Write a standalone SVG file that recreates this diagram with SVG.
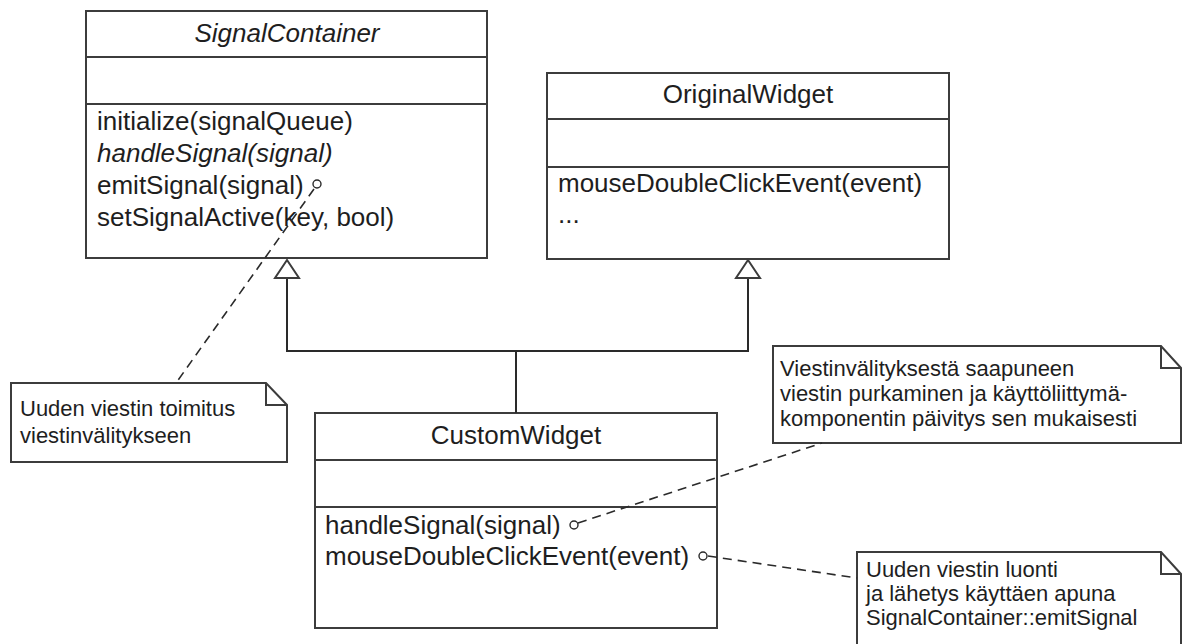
<svg xmlns="http://www.w3.org/2000/svg" width="1183" height="644" viewBox="0 0 1183 644">
  <style>
    .box { fill: #ffffff; stroke: #3c3c3c; stroke-width: 2; }
    .sep { stroke: #3c3c3c; stroke-width: 2; fill: none; }
    .cls { font-family: "Liberation Sans", Arial, sans-serif; font-size: 26px; fill: #1e1e1e; }
    .ttl { text-anchor: middle; }
    .it { font-style: italic; }
    .note { font-family: "Liberation Sans", Arial, sans-serif; font-size: 22px; fill: #1e1e1e; }
    .edge { stroke: #2a2a2a; stroke-width: 2; fill: none; }
    .gen { fill: #ffffff; stroke: #3c3c3c; stroke-width: 2; stroke-linejoin: miter; }
    .anchor { stroke: #2a2a2a; stroke-width: 1.6; fill: none; stroke-dasharray: 9 6; }
    .port { fill: #ffffff; stroke: #2a2a2a; stroke-width: 1.4; }
  </style>

  <g id="SignalContainer">
    <rect class="box" x="86" y="11" width="401" height="247"/>
    <line class="sep" x1="86" y1="57" x2="487" y2="57"/>
    <line class="sep" x1="86" y1="104" x2="487" y2="104"/>
    <text class="cls ttl it" x="287" y="42">SignalContainer</text>
    <text class="cls" x="97" y="130">initialize(signalQueue)</text>
    <text class="cls it" x="97" y="162">handleSignal(signal)</text>
    <text class="cls" x="97" y="194">emitSignal(signal)</text>
    <text class="cls" x="97" y="226">setSignalActive(key, bool)</text>
  </g>

  <g id="OriginalWidget">
    <rect class="box" x="547" y="73" width="402" height="186"/>
    <line class="sep" x1="547" y1="119" x2="949" y2="119"/>
    <line class="sep" x1="547" y1="167" x2="949" y2="167"/>
    <text class="cls ttl" x="748" y="103">OriginalWidget</text>
    <text class="cls" x="558" y="192">mouseDoubleClickEvent(event)</text>
    <text class="cls" x="558" y="223">...</text>
  </g>

  <g id="CustomWidget">
    <rect class="box" x="315" y="413" width="402" height="215"/>
    <line class="sep" x1="315" y1="460" x2="717" y2="460"/>
    <line class="sep" x1="315" y1="507" x2="717" y2="507"/>
    <text class="cls ttl" x="516" y="444">CustomWidget</text>
    <text class="cls" x="325" y="534">handleSignal(signal)</text>
    <text class="cls" x="325" y="565">mouseDoubleClickEvent(event)</text>
  </g>

  <g id="note-emit">
    <path class="box" d="M11,383 H266 L287,405 V462 H11 Z"/>
    <path class="sep" d="M266,383 V405 H287"/>
    <text class="note" x="20" y="416">Uuden viestin toimitus</text>
    <text class="note" x="20" y="443">viestinvälitykseen</text>
  </g>

  <g id="note-handle">
    <path class="box" d="M773,346 H1161 L1181,368 V443 H773 Z"/>
    <path class="sep" d="M1161,346 V368 H1181"/>
    <text class="note" x="780" y="376">Viestinvälityksestä saapuneen</text>
    <text class="note" x="780" y="401">viestin purkaminen ja käyttöliittymä-</text>
    <text class="note" x="780" y="426">komponentin päivitys sen mukaisesti</text>
  </g>

  <g id="note-create">
    <path class="box" d="M857,552 H1161 L1181,574 V660 H857 Z"/>
    <path class="sep" d="M1161,552 V574 H1181"/>
    <text class="note" x="866" y="577">Uuden viestin luonti</text>
    <text class="note" x="866" y="601">ja lähetys käyttäen apuna</text>
    <text class="note" x="866" y="625">SignalContainer::emitSignal</text>
  </g>

  <!-- inheritance connectors and note anchors, drawn above the boxes -->
  <g id="connectors">
    <polyline class="edge" points="516,413 516,351"/>
    <polyline class="edge" points="287,278 287,351 748,351 748,278"/>
    <polygon class="gen" points="287,260 275,278 299,278"/>
    <polygon class="gen" points="748,260 736,278 760,278"/>
    <line class="anchor" x1="314" y1="189" x2="176" y2="383"/>
    <line class="anchor" x1="578" y1="523" x2="822" y2="443"/>
    <line class="anchor" x1="708" y1="556" x2="857" y2="578"/>
    <circle class="port" cx="317" cy="184" r="4"/>
    <circle class="port" cx="574" cy="525" r="4"/>
    <circle class="port" cx="703" cy="556" r="4"/>
  </g>
</svg>
